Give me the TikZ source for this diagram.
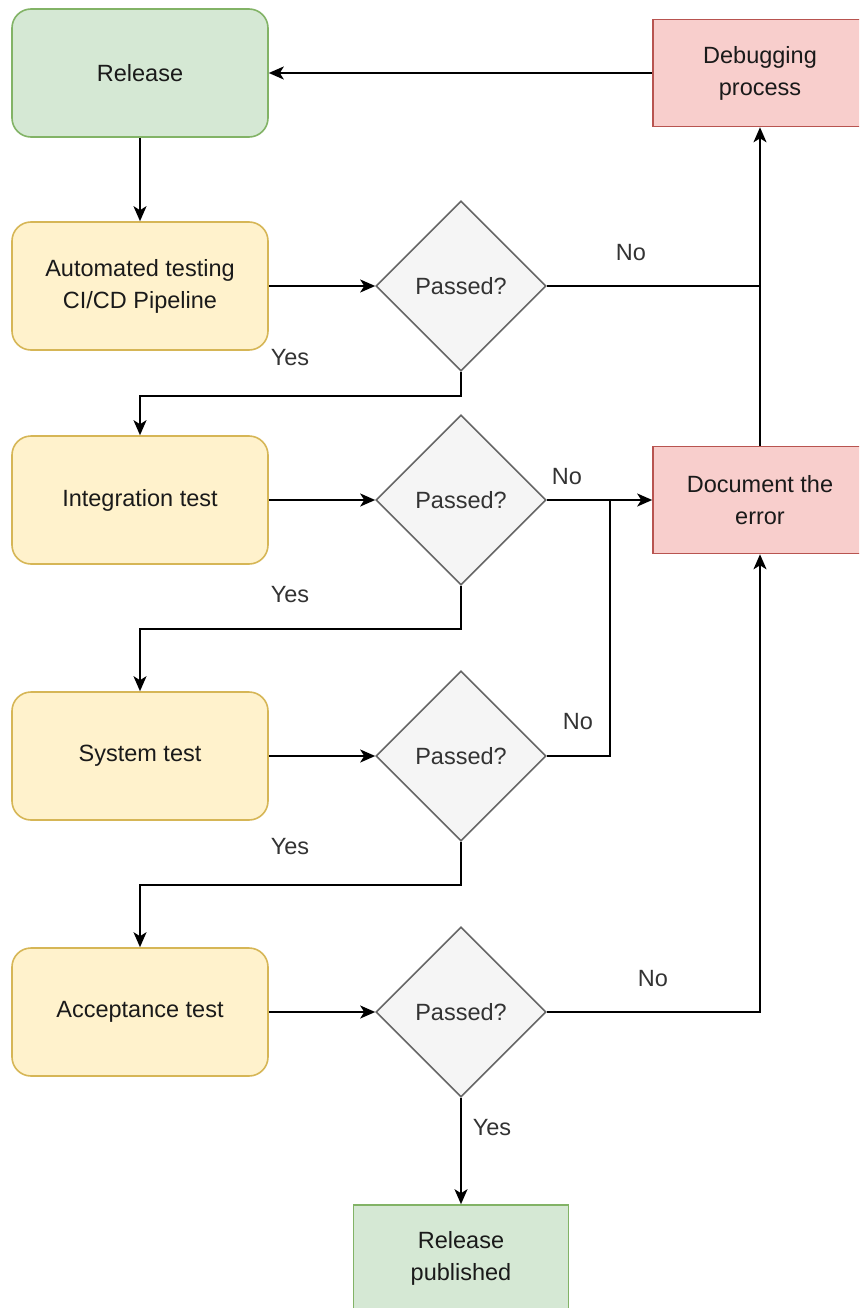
\documentclass[tikz,border=0pt]{standalone}
\usepackage{fontspec}
\setmainfont{Liberation Sans}
\usetikzlibrary{arrows.meta,shapes.geometric}
\definecolor{gfill}{HTML}{D5E8D4}\definecolor{gline}{HTML}{82B366}
\definecolor{yfill}{HTML}{FFF2CC}\definecolor{yline}{HTML}{D6B656}
\definecolor{rfill}{HTML}{F8CECC}\definecolor{rline}{HTML}{B85450}
\definecolor{dfill}{HTML}{F5F5F5}\definecolor{dline}{HTML}{666666}
\definecolor{dtext}{HTML}{333333}
\definecolor{mtext}{HTML}{1A1A1A}
\begin{document}
\begin{tikzpicture}[x=1pt,y=-1pt,
  every node/.style={font=\fontsize{23.5}{32}\selectfont, align=center, inner sep=0pt, text=mtext},
  gbox/.style={draw=gline, fill=gfill, line width=1.6pt, minimum width=256pt, minimum height=128pt, rounded corners=19pt},
  ybox/.style={draw=yline, fill=yfill, line width=1.6pt, minimum width=256pt, minimum height=128pt, rounded corners=19pt},
  rbox/.style={draw=rline, fill=rfill, line width=1.6pt, minimum width=214pt, minimum height=107pt},
  pbox/.style={draw=gline, fill=gfill, line width=1.6pt, minimum width=215pt, minimum height=107pt},
  dec/.style={draw=dline, fill=dfill, line width=1.6pt, diamond, shape aspect=1, minimum width=170pt, minimum height=170pt, text=dtext},
  lab/.style={text=dtext},
  conn/.style={line width=2pt, draw=black},
  arr/.style={conn, -{Stealth[length=15pt,width=13pt,inset=4pt]}}
]
\useasboundingbox (0,0) rectangle (859,1308);
\clip (0,0) rectangle (859,1308);
\node[gbox] (rel) at (140,73) {Release};
\node[rbox] (dbg) at (760,73) {Debugging\\process};
\node[ybox] (auto) at (140,286) {Automated testing\\CI/CD Pipeline};
\node[dec] (d1) at (461,286) {Passed?};
\node[ybox] (integ) at (140,500) {Integration test};
\node[dec] (d2) at (461,500) {Passed?};
\node[rbox] (doc) at (760,500) {Document the\\error};
\node[ybox] (sys) at (140,756) {System test};
\node[dec] (d3) at (461,756) {Passed?};
\node[ybox] (acc) at (140,1012) {Acceptance test};
\node[dec] (d4) at (461,1012) {Passed?};
\node[pbox] (pub) at (461,1258.5) {Release\\published};
\coordinate (j2) at (610,500);

\draw[arr] (dbg.west) -- (rel.east);
\draw[arr] (rel.south) -- (auto.north);
\draw[arr] (auto.east) -- (d1.west);
\draw[conn] (d1.east) -- (doc.north |- d1.east);
\draw[arr] (doc.north) -- (dbg.south);
\draw[arr] (d1.south) -- ++(0,24) -| (integ.north);
\draw[arr] (integ.east) -- (d2.west);
\draw[arr] (d2.east) -- (doc.west);
\draw[arr] (d2.south) -- ++(0,43) -| (sys.north);
\draw[arr] (sys.east) -- (d3.west);
\draw[conn] (d3.east) -| (j2);
\draw[arr] (d3.south) -- ++(0,43) -| (acc.north);
\draw[arr] (acc.east) -- (d4.west);
\draw[arr] (d4.east) -| (doc.south);
\draw[arr] (d4.south) -- (pub.north);

\node[lab] (n1) at (631,253) {No};
\node[lab] (y1) at (290,358) {Yes};
\node[lab] (n2) at (567,477) {No};
\node[lab] (y2) at (290,595) {Yes};
\node[lab] (n3) at (578,722) {No};
\node[lab] (y3) at (290,847) {Yes};
\node[lab] (n4) at (653,979) {No};
\node[lab] (y4) at (492,1128) {Yes};
\end{tikzpicture}
\end{document}
